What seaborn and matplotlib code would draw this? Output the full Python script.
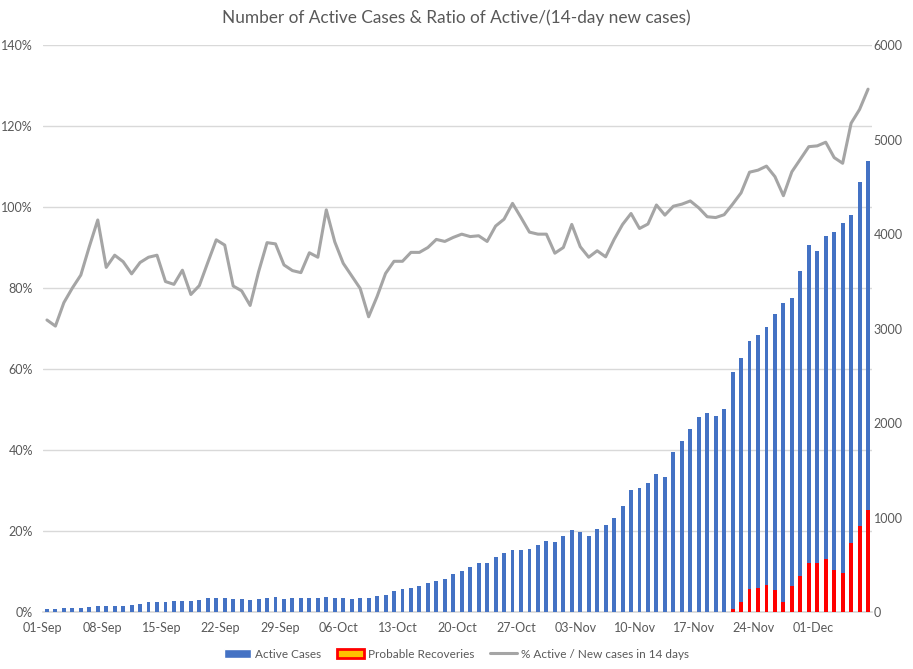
import numpy as np
import pandas as pd
import seaborn as sns
import matplotlib.pyplot as plt
from matplotlib.patches import Patch
from matplotlib.lines import Line2D

# Casos activos por dia (eje derecho), desde el 01-Sep
active = [32, 32, 42, 42, 42, 53, 63, 63, 63, 63,
          74, 85, 106, 106, 106, 116, 116, 116, 127, 148,
          148, 148, 137, 137, 127, 137, 148, 159, 137, 148,
          148, 148, 148, 159, 148, 148, 138, 148, 148, 169,
          180, 222, 243, 254, 275, 307, 328, 351, 404, 435,
          478, 520, 520, 583, 626, 658, 658, 668, 710, 753,
          742, 806, 867, 846, 804, 878, 920, 994, 1121, 1290,
          1312, 1364, 1457, 1425, 1689, 1806, 1933, 2060, 2102, 2070,
          2144, 2536, 2684, 2864, 2927, 3012, 3150, 3266, 3319, 3605,
          3880, 3816, 3975, 4017, 4112, 4197, 4546, 4768]

# Recuperaciones probables (solo aparecen a partir del 21-Nov)
recov = [0] * 81 + [35, 109, 247, 257, 289, 236, 109, 279, 384, 522,
                    522, 564, 448, 416, 734, 913, 1083]

# % activos / casos nuevos en 14 dias (eje izquierdo)
ratio = [72.1, 70.6, 76.4, 80.0, 83.2, 90.2, 96.8, 85.1, 88.1, 86.5,
         83.5, 86.3, 87.6, 88.1, 81.6, 80.9, 84.4, 78.4, 80.6, 86.3,
         91.9, 90.6, 80.5, 79.3, 75.7, 84.0, 91.2, 90.9, 85.7, 84.3,
         83.8, 88.7, 87.6, 99.3, 91.4, 86.1, 83.0, 79.9, 72.9, 77.9,
         83.6, 86.6, 86.6, 88.8, 88.8, 90.0, 92.0, 91.5, 92.5, 93.3,
         92.7, 92.9, 91.5, 95.3, 97.0, 100.9, 97.4, 93.8, 93.3, 93.3,
         88.6, 90.0, 95.7, 90.2, 87.6, 89.2, 87.7, 92.0, 95.7, 98.4,
         94.7, 95.8, 100.5, 98.0, 100.2, 100.7, 101.5, 99.8, 97.6, 97.4,
         98.1, 100.7, 103.5, 108.6, 109.1, 110.1, 107.5, 102.8, 108.7, 111.8,
         114.9, 115.1, 116.0, 112.2, 110.8, 120.7, 124.1, 129.1]

days = pd.date_range('2020-09-01', periods=len(active)).strftime('%d-%b')
df = pd.DataFrame({'pos': np.arange(len(active)), 'day': days,
                   'active': active, 'recov': recov, 'ratio': ratio})
n = len(df)

sns.set_theme(style='white')
plt.rcParams['font.family'] = ['Lato', 'DejaVu Sans']

grey_txt = '#595959'
grid_col = '#D9D9D9'

fig = plt.figure(figsize=(9.13, 6.69), dpi=100)
ax1 = fig.add_axes([0.0468, 0.0852, 0.9086, 0.8475])
ax2 = ax1.twinx()

# linea del ratio (eje izquierdo)
sns.lineplot(data=df, x='pos', y='ratio', ax=ax1, color='#A5A5A5', linewidth=2.2)

# barras en el eje derecho
sns.barplot(data=df, x='pos', y='active', ax=ax2, color='#4472C4',
            width=0.46, saturation=1, native_scale=True, linewidth=0, edgecolor='none')
sns.barplot(data=df, x='pos', y='recov', ax=ax2, color='#FF0000',
            width=0.46, saturation=1, native_scale=True, linewidth=0, edgecolor='none')

ax1.set_ylim(0, 140)
ax1.set_yticks(range(0, 141, 20))
ax1.set_yticklabels([f'{v}%' for v in range(0, 141, 20)])
ax2.set_ylim(0, 6000)
ax2.set_yticks(range(0, 6001, 1000))

ax1.set_xlim(-0.5, n - 0.5)
ticks = np.arange(0, n + 1, 7) - 0.5
labels = list(df['day'][::7]) + [''] * (len(ticks) - len(df['day'][::7]))
ax1.set_xticks(ticks)
ax1.set_xticklabels(labels)

for a in (ax1, ax2):
    a.set_xlabel('')
    a.set_ylabel('')
    for s in a.spines.values():
        s.set_visible(False)
ax1.spines['bottom'].set_visible(True)
ax1.spines['bottom'].set_color(grid_col)

ax1.yaxis.grid(True, color=grid_col, linewidth=1)
ax1.set_axisbelow(True)
ax1.tick_params(axis='x', length=4, color=grid_col, labelcolor=grey_txt, labelsize=9, pad=3)
ax1.tick_params(axis='y', length=0, labelcolor=grey_txt, labelsize=9, pad=7)
ax2.tick_params(axis='y', length=0, labelcolor=grey_txt, labelsize=9, pad=1)

fig.text(0.5, 1 - 18 / 669, 'Number of Active Cases & Ratio of Active/(14-day new cases)',
         ha='center', va='center', fontsize=12.4, color=grey_txt)

handles = [Patch(facecolor='#4472C4'),
           Patch(facecolor='#FFC000', edgecolor='#FF0000', linewidth=2),
           Line2D([0], [0], color='#A5A5A5', linewidth=2.2)]
fig.legend(handles, ['Active Cases', 'Probable Recoveries', '% Active / New cases in 14 days'],
           loc='center', bbox_to_anchor=(0.5, 1 - 654 / 669), ncol=3, frameon=False,
           fontsize=8.5, labelcolor=grey_txt, handlelength=2.3, handleheight=0.7,
           handletextpad=0.3, columnspacing=1.35)

fig.savefig('out.png', dpi=100)
